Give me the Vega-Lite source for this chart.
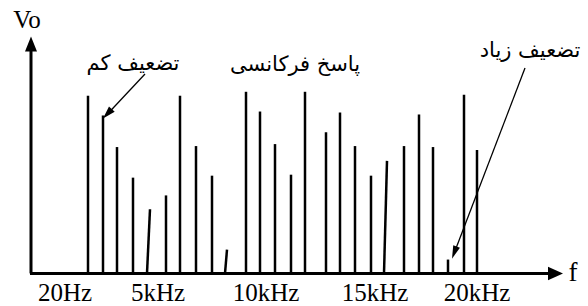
{
  "$schema": "https://vega.github.io/schema/vega-lite/v6.json",
  "width": 588,
  "height": 306,
  "padding": 0,
  "autosize": {"type": "fit", "contains": "padding"},
  "background": "white",
  "config": {"view": {"stroke": null}},
  "data": {"values": [{"one": 1}]},
  "datasets": {
    "bars": [
      {"f": 88, "ft": 88, "v": 180},
      {"f": 103, "ft": 103, "v": 160},
      {"f": 117, "ft": 117, "v": 128},
      {"f": 133, "ft": 133, "v": 97},
      {"f": 147, "ft": 150, "v": 65},
      {"f": 166, "ft": 166, "v": 79},
      {"f": 180, "ft": 180, "v": 180},
      {"f": 196, "ft": 196, "v": 129},
      {"f": 212, "ft": 212, "v": 99},
      {"f": 225, "ft": 227, "v": 24},
      {"f": 246, "ft": 246, "v": 184},
      {"f": 260, "ft": 260, "v": 164},
      {"f": 275, "ft": 275, "v": 131},
      {"f": 291, "ft": 291, "v": 100},
      {"f": 305, "ft": 305, "v": 184},
      {"f": 326, "ft": 326, "v": 143},
      {"f": 340, "ft": 340, "v": 163},
      {"f": 355, "ft": 355, "v": 129},
      {"f": 371, "ft": 371, "v": 99},
      {"f": 384, "ft": 387, "v": 114},
      {"f": 404, "ft": 404, "v": 129},
      {"f": 419, "ft": 419, "v": 161},
      {"f": 433, "ft": 433, "v": 128},
      {"f": 448, "ft": 448, "v": 14},
      {"f": 464, "ft": 464, "v": 181},
      {"f": 477, "ft": 477, "v": 125}
    ],
    "ticks": [
      {"f": 65, "label": "20Hz"},
      {"f": 158, "label": "5kHz"},
      {"f": 266, "label": "10kHz"},
      {"f": 375, "label": "15kHz"},
      {"f": 477, "label": "20kHz"}
    ],
    "notes": [
      {"f": 133, "v": 212, "label": "تضعیف کم"},
      {"f": 295, "v": 211, "label": "پاسخ فرکانسی"},
      {"f": 530, "v": 225, "label": "تضعیف زیاد"}
    ]
  },
  "layer": [
    {
      "data": {"name": "bars"},
      "mark": {"type": "rule", "color": "black", "strokeWidth": 2.5},
      "encoding": {
        "x": {"field": "ft", "type": "quantitative", "scale": {"domain": [0, 588], "nice": false, "zero": false}, "axis": null},
        "x2": {"field": "f"},
        "y": {"field": "v", "type": "quantitative", "scale": {"domain": [-29, 277], "nice": false, "zero": false}, "axis": null},
        "y2": {"datum": 0}
      }
    },
    {
      "mark": {"type": "rule", "color": "black", "strokeWidth": 3},
      "encoding": {
        "x": {"datum": 31, "type": "quantitative"},
        "y": {"datum": 0, "type": "quantitative"},
        "y2": {"datum": 228}
      }
    },
    {
      "mark": {"type": "rule", "color": "black", "strokeWidth": 3},
      "encoding": {
        "x": {"datum": 30, "type": "quantitative"},
        "x2": {"datum": 550},
        "y": {"datum": 0, "type": "quantitative"}
      }
    },
    {
      "mark": {"type": "point", "filled": true, "color": "black", "opacity": 1, "shape": "M0,-1L0.8,1L-0.8,1Z", "size": 225, "strokeWidth": 0},
      "encoding": {
        "x": {"datum": 31, "type": "quantitative"},
        "y": {"datum": 232.5, "type": "quantitative"}
      }
    },
    {
      "mark": {"type": "point", "filled": true, "color": "black", "opacity": 1, "shape": "M0,-1L0.9,1L-0.9,1Z", "size": 225, "angle": 90, "strokeWidth": 0},
      "encoding": {
        "x": {"datum": 555.5, "type": "quantitative"},
        "y": {"datum": 0, "type": "quantitative"}
      }
    },
    {
      "mark": {"type": "rule", "color": "black", "strokeWidth": 1.3},
      "encoding": {
        "x": {"datum": 145, "type": "quantitative"},
        "x2": {"datum": 108},
        "y": {"datum": 202, "type": "quantitative"},
        "y2": {"datum": 162}
      }
    },
    {
      "mark": {"type": "point", "filled": true, "color": "black", "opacity": 1, "shape": "M0,-1L0.6,1L-0.6,1Z", "size": 169, "angle": 223, "strokeWidth": 0},
      "encoding": {
        "x": {"datum": 107.4, "type": "quantitative"},
        "y": {"datum": 161.7, "type": "quantitative"}
      }
    },
    {
      "mark": {"type": "rule", "color": "black", "strokeWidth": 1.3},
      "encoding": {
        "x": {"datum": 525, "type": "quantitative"},
        "x2": {"datum": 454.5},
        "y": {"datum": 208, "type": "quantitative"},
        "y2": {"datum": 21.5}
      }
    },
    {
      "mark": {"type": "point", "filled": true, "color": "black", "opacity": 1, "shape": "M0,-1L0.55,1L-0.55,1Z", "size": 169, "angle": 200.7, "strokeWidth": 0},
      "encoding": {
        "x": {"datum": 454.3, "type": "quantitative"},
        "y": {"datum": 21.1, "type": "quantitative"}
      }
    },
    {
      "data": {"name": "ticks"},
      "mark": {"type": "text", "font": "Liberation Serif", "fontSize": 25, "color": "black", "align": "center", "baseline": "middle"},
      "encoding": {
        "x": {"field": "f", "type": "quantitative"},
        "y": {"datum": -20, "type": "quantitative"},
        "text": {"field": "label"}
      }
    },
    {
      "mark": {"type": "text", "font": "Liberation Serif", "fontSize": 25, "color": "black", "align": "center", "baseline": "middle", "text": "Vo"},
      "encoding": {
        "x": {"datum": 27, "type": "quantitative"},
        "y": {"datum": 257, "type": "quantitative"}
      }
    },
    {
      "mark": {"type": "text", "font": "Liberation Serif", "fontSize": 27, "color": "black", "align": "center", "baseline": "middle", "text": "f"},
      "encoding": {
        "x": {"datum": 573, "type": "quantitative"},
        "y": {"datum": 0, "type": "quantitative"}
      }
    },
    {
      "data": {"name": "notes"},
      "mark": {"type": "text", "font": "DejaVu Sans", "fontSize": 21, "color": "black", "align": "center", "baseline": "middle"},
      "encoding": {
        "x": {"field": "f", "type": "quantitative"},
        "y": {"field": "v", "type": "quantitative"},
        "text": {"field": "label"}
      }
    }
  ]
}
